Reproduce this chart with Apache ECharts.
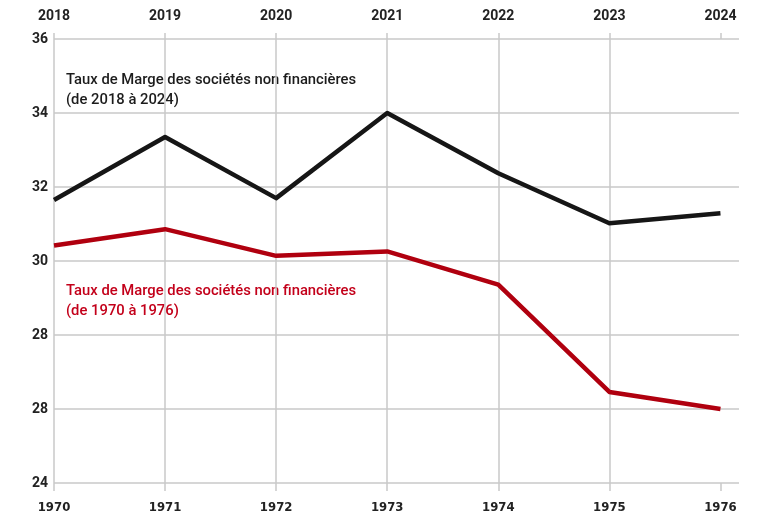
<!DOCTYPE html>
<html>
<head>
<meta charset="utf-8">
<script src="https://cdn.jsdelivr.net/npm/echarts@6/dist/echarts.min.js"></script>
<style>
  html, body { margin: 0; padding: 0; background: #fff; }
  #chart { width: 758px; height: 517px; }
</style>
</head>
<body>
<div id="chart"></div>
<script>
// années (axe du bas : 1970-1976, axe du haut : 2018-2024)
const yearsBottom = [1970, 1971, 1972, 1973, 1974, 1975, 1976];
const yearsTop = [2018, 2019, 2020, 2021, 2022, 2023, 2024];
// taux de marge des sociétés non financières
const margeRecente = [31.65, 33.35, 31.7, 34.0, 32.37, 31.02, 31.29];
const margeAncienne = [30.42, 30.86, 30.14, 30.26, 29.36, 26.46, 26.0];
// graduations de l'axe vertical (libellés tels qu'affichés)
const yTicks = [24, 26, 28, 30, 32, 34, 36];
const yTickLabels = ["24", "28", "28", "30", "32", "34", "36"];

const gridColor = "#c9c9c9";
const labelFont = { fontFamily: "Roboto", fontWeight: "bold", fontSize: 14, color: "#222" };

var chartDom = document.getElementById("chart");
var myChart = echarts.init(chartDom, null, { renderer: "canvas" });

var option = {
  animation: false,
  grid: { left: 54, right: 19, top: 39, bottom: 34, outerBoundsMode: "none", containLabel: false },
  xAxis: [
    {
      type: "value",
      position: "bottom",
      min: yearsBottom[0],
      max: yearsBottom[yearsBottom.length - 1] + 0.167,
      interval: 1,
      axisLine: { show: false },
      axisTick: { show: true, length: 8, customValues: yearsBottom, lineStyle: { color: gridColor, width: 1.5 } },
      axisLabel: {
        customValues: yearsBottom,
        formatter: (v) => String(v),
        margin: 18,
        fontFamily: "'DejaVu Sans Condensed', 'Liberation Sans Narrow', Roboto, sans-serif",
        fontWeight: "bold",
        fontSize: 13,
        color: "#222",
      },
      splitLine: { show: true, showMaxLine: false, lineStyle: { color: gridColor, width: 1.5 } },
    },
    {
      type: "value",
      position: "top",
      min: yearsTop[0],
      max: yearsTop[yearsTop.length - 1] + 0.167,
      interval: 1,
      axisLine: { show: false },
      axisTick: { show: true, length: 6, customValues: yearsTop, lineStyle: { color: gridColor, width: 1.5 } },
      axisLabel: Object.assign({ customValues: yearsTop, formatter: (v) => String(v), margin: 16 }, labelFont),
      splitLine: { show: false },
    },
  ],
  yAxis: {
    type: "value",
    min: yTicks[0],
    max: yTicks[yTicks.length - 1],
    interval: 2,
    axisLine: { show: false },
    axisTick: { show: false },
    axisLabel: Object.assign(
      {
        margin: 6,
        padding: [0, 0, 6, 0],
        formatter: (v) => yTickLabels[yTicks.indexOf(v)],
      },
      labelFont
    ),
    splitLine: { show: true, lineStyle: { color: gridColor, width: 1.5 } },
  },
  graphic: [
    {
      type: "text",
      left: 66,
      top: 70,
      style: {
        text: "Taux de Marge des sociétés non financières\n(de 2018 à 2024)",
        font: "500 14.8px Roboto",
        fill: "#1c1c1c",
        lineHeight: 20,
      },
    },
    {
      type: "text",
      left: 66,
      top: 281,
      style: {
        text: "Taux de Marge des sociétés non financières\n(de 1970 à 1976)",
        font: "500 14.8px Roboto",
        fill: "#c3001a",
        lineHeight: 20,
      },
    },
  ],
  series: [
    {
      name: "2018-2024",
      type: "line",
      xAxisIndex: 1,
      symbol: "none",
      lineStyle: { color: "#161616", width: 4.5, join: "round" },
      data: yearsTop.map((y, i) => [y, margeRecente[i]]),
    },
    {
      name: "1970-1976",
      type: "line",
      xAxisIndex: 0,
      symbol: "none",
      lineStyle: { color: "#b0000f", width: 4.5, join: "round" },
      data: yearsBottom.map((y, i) => [y, margeAncienne[i]]),
    },
  ],
};

myChart.setOption(option);
</script>
</body>
</html>
